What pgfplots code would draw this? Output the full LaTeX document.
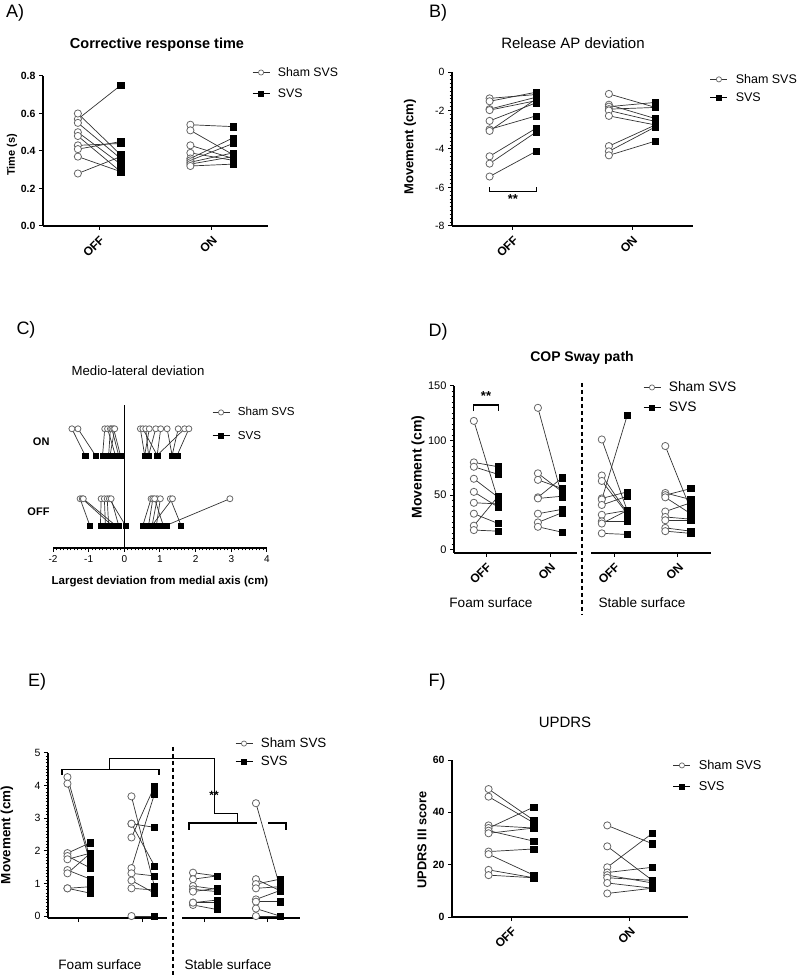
\documentclass[border=0pt]{standalone}
\usepackage{fontspec}
\setmainfont{Liberation Sans}
\usepackage{pgfplots}
\usepackage{pgfplotstable}
\pgfplotsset{compat=1.18}

\newcommand{\fs}[1]{\fontsize{#1}{#1}\selectfont}

% c = category (1 OFF, 2 ON), s = Sham SVS, v = SVS
\pgfplotstableread{
c s v
1 0.57 0.75
1 0.60 0.38
1 0.55 0.36
1 0.50 0.33
1 0.48 0.29
1 0.43 0.44
1 0.41 0.45
1 0.37 0.29
1 0.28 0.37
2 0.54 0.53
2 0.51 0.38
2 0.43 0.36
2 0.39 0.35
2 0.36 0.47
2 0.35 0.44
2 0.34 0.39
2 0.33 0.37
2 0.32 0.33
}\tblA

\pgfplotstableread{
c s v
1 -1.37 -1.17
1 -1.52 -1.05
1 -1.93 -1.31
1 -1.98 -1.49
1 -2.54 -1.60
1 -2.98 -2.28
1 -3.06 -1.40
1 -4.38 -2.92
1 -4.76 -3.12
1 -5.43 -4.12
2 -1.14 -1.84
2 -1.70 -2.42
2 -1.80 -1.58
2 -1.93 -1.84
2 -2.00 -2.57
2 -2.28 -2.75
2 -3.85 -2.75
2 -4.12 -2.85
2 -4.33 -3.59
}\tblB

\pgfplotstableread{
c s v
2 -1.47 -1.10
2 -1.30 -0.81
2 -0.55 -0.61
2 -0.47 -0.25
2 -0.39 -0.44
2 -0.35 -0.16
2 -0.30 -0.11
2 -0.27 -0.40
2 0.45 0.57
2 0.52 0.92
2 0.60 0.68
2 0.70 0.57
2 0.88 0.68
2 1.02 0.92
2 1.20 1.34
2 1.51 1.34
2 1.69 0.92
2 1.81 1.48
1 -1.24 -0.97
1 -1.18 -0.35
1 -1.15 -0.25
1 -0.65 -0.67
1 -0.56 -0.53
1 -0.48 -0.44
1 -0.42 0.03
1 -0.37 -0.16
1 0.75 0.52
1 0.80 0.68
1 0.92 0.78
1 1.01 0.90
1 1.29 1.59
1 1.35 0.78
1 2.96 1.18
1 0.85 1.09
}\tblC

\pgfplotstableread{
c s v
1 118 45
1 80 76
1 76 69
1 65 48
1 53 39
1 43 42
1 33 24
1 22 49
1 18 17
2 130 48
2 70 53
2 64 56
2 48 66
2 47 49
2 33 37
2 25 34
2 21 16
}\tblDfoam

\pgfplotstableread{
c s v
1 101 36
1 68 34
1 63 33
1 47 53
1 46 123
1 41 49
1 32 36
1 26 26
1 24 36
1 15 14
2 95 37
2 52 46
2 50 56
2 48 33
2 35 43
2 30 28
2 27 27
2 20 17
2 17 15
}\tblDstable

\pgfplotstableread{
c s v
1 4.26 1.72
1 4.06 1.60
1 1.93 2.25
1 1.84 1.47
1 1.74 1.93
1 1.41 1.13
1 1.31 1.93
1 0.85 0.90
1 0.85 0.70
2 3.67 0.90
2 2.83 1.54
2 2.83 2.72
2 2.41 3.98
2 1.47 3.75
2 1.31 1.23
2 1.09 0.70
2 0.85 0.80
2 0.00 0.00
}\tblEfoam

\pgfplotstableread{
c s v
1 1.33 1.23
1 1.13 1.23
1 0.92 0.82
1 0.82 0.75
1 0.75 0.85
1 0.41 0.49
1 0.34 0.20
1 0.41 0.41
2 3.46 0.90
2 1.13 0.78
2 0.98 1.13
2 0.85 0.90
2 0.51 0.78
2 0.44 0.44
2 0.23 0.00
2 0.00 0.00
}\tblEstable

\pgfplotstableread{
c s v
1 48.9 37
1 46 36
1 35 34
1 34 42
1 33 29
1 32 34
1 25 26
1 24 16
1 18 15
1 16 15
2 35 28
2 27 14
2 19 32
2 17 19
2 16 13
2 15 14
2 13 11
2 9 11
}\tblF

\pgfplotsset{
  base/.style={scale only axis, anchor=south west, clip=false,
    axis line style={line width=1.3pt}, tick align=outside,
    major tick length=4pt, minor tick length=2.5pt,
    tick style={black, line width=1pt},
    /pgf/number format/assume math mode=true,
    legend cell align=left,
    legend image code/.code={\draw[##1] (0pt,0pt) -- (17pt,0pt); \draw[##1] plot coordinates {(8.5pt,0pt)};}},
  cat/.style={xtick={1,2}, xticklabels={OFF,ON},
    xticklabel style={rotate=45, anchor=north east, font=\fs{12}\bfseries}},
  leg/.style n args={4}{legend style={at={(#1,#2)}, anchor=west, draw=none, fill=none,
    font=\fs{#3}, row sep=#4, column sep=8pt, inner sep=0pt, nodes={inner sep=0pt}}},
  pl/.style={no marks, draw=black!80, line width=0.7pt, forget plot},
  shm/.style={only marks, mark=*, mark size=3.6pt, mark options={draw=black!60, fill=white, line width=0.8pt}, forget plot},
  svm/.style={only marks, mark=square*, mark size=3.1pt, mark options={draw=black, fill=black}, forget plot},
}

\newcommand{\legs}{%
  \addlegendimage{draw=black!80, line width=0.7pt, mark=*, mark size=2.6pt, mark options={draw=black!60, fill=white, line width=0.7pt}}
  \addlegendentry{Sham SVS}
  \addlegendimage{draw=black, line width=0.7pt, mark=square*, mark size=2.4pt, mark options={fill=black}}
  \addlegendentry{SVS}}

\newcommand{\pairs}[2]{%
  \addplot[pl, quiver={u=2*#2, v=\thisrow{v}-\thisrow{s}}] table[x expr=\thisrow{c}-#2, y=s] {#1};
  \addplot[shm] table[x expr=\thisrow{c}-#2, y=s] {#1};
  \addplot[svm] table[x expr=\thisrow{c}+#2, y=v] {#1};}

\begin{document}
\begin{tikzpicture}
\useasboundingbox (0pt,0pt) rectangle (800pt,978pt);
\clip (0pt,0pt) rectangle (800pt,978pt);

% ---------- A
\begin{axis}[base, cat, at={(43pt,752pt)}, width=225pt, height=150pt,
  xmin=0.5, xmax=2.5, ymin=0, ymax=0.8,
  axis x line*=bottom, axis y line*=left,
  ytick={0,0.2,0.4,0.6,0.8},
  yticklabel style={font=\fs{10.5}\bfseries, /pgf/number format/fixed, /pgf/number format/fixed zerofill, /pgf/number format/precision=1},
  leg={0.929}{0.953}{12.3}{11pt}]
\legs
\pairs{\tblA}{0.19}
\end{axis}

% ---------- B
\begin{axis}[base, cat, at={(452pt,752pt)}, width=241pt, height=154pt,
  xmin=0.49, xmax=2.51, ymin=-8, ymax=0,
  axis x line*=bottom, axis y line*=left,
  ytick={-8,-6,-4,-2,0}, minor y tick num=9,
  yticklabel style={font=\fs{10.5}},
  leg={1.07}{0.893}{12.5}{8pt}]
\legs
\pairs{\tblB}{0.195}
\draw[line width=1.1pt] (axis cs:0.805,-6.0) -- (axis cs:0.805,-6.2) -- (axis cs:1.195,-6.2) -- (axis cs:1.195,-6.0);
\node[font=\fs{13}\bfseries] at (axis cs:1.0,-6.6) {**};
\end{axis}

% ---------- C
\begin{axis}[base, at={(53pt,430pt)}, width=214pt, height=143pt,
  xmin=-2, xmax=4, ymin=0.486, ymax=2.53,
  axis x line*=bottom, axis y line=none,
  xtick={-2,-1,0,1,2,3,4}, minor x tick num=9,
  xticklabel style={font=\fs{10}},
  shm/.append style={mark size=3pt},
  svm/.append style={mark size=2.6pt},
  leg={0.743}{0.867}{11.6}{13.6pt}]
\legs
\addplot[pl, quiver={u=\thisrow{v}-\thisrow{s}, v=-0.38}] table[x=s, y expr=\thisrow{c}+0.19] {\tblC};
\addplot[shm] table[x=s, y expr=\thisrow{c}+0.19] {\tblC};
\addplot[svm] table[x=v, y expr=\thisrow{c}-0.19] {\tblC};
\draw[line width=1.3pt] (axis cs:0,0.486) -- (axis cs:0,2.53);
\node[anchor=east, font=\fs{11}\bfseries] at (axis cs:-2,2) {ON};
\node[anchor=east, font=\fs{11}\bfseries] at (axis cs:-2,1) {OFF};
\end{axis}

% ---------- D
\begin{axis}[base, cat, at={(454pt,425pt)}, width=123pt, height=167pt,
  xmin=0.5, xmax=2.42, ymin=-3, ymax=150,
  axis x line*=bottom, axis y line*=left,
  ytick={0,50,100,150}, minor y tick num=9,
  yticklabel style={font=\fs{11}}]
\pairs{\tblDfoam}{0.19}
\draw[line width=1.2pt] (axis cs:0.81,127) -- (axis cs:0.81,132.6) -- (axis cs:1.19,132.6) -- (axis cs:1.19,127);
\node[font=\fs{13}\bfseries] at (axis cs:1.0,141) {**};
\end{axis}
\begin{axis}[base, cat, at={(591pt,425pt)}, width=120pt, height=167pt,
  xmin=0.63, xmax=2.52, ymin=-3, ymax=150,
  axis x line*=bottom, axis y line=none,
  leg={0.433}{0.931}{13.8}{9pt}]
\legs
\pairs{\tblDstable}{0.2}
\end{axis}

% ---------- E
\begin{axis}[base, at={(48pt,60pt)}, width=119pt, height=165pt,
  xmin=0.516, xmax=2.375, ymin=-0.06, ymax=5,
  axis x line*=bottom, axis y line*=left,
  xtick={1,2}, xticklabels={,},
  ytick={0,1,2,3,4,5}, minor y tick num=9,
  yticklabel style={font=\fs{10.5}},
  leg={1.571}{1.003}{13.4}{7pt}]
\legs
\pairs{\tblEfoam}{0.18}
\end{axis}
\begin{axis}[base, at={(182pt,60pt)}, width=118pt, height=165pt,
  xmin=0.635, xmax=2.51, ymin=-0.06, ymax=5,
  axis x line*=bottom, axis y line=none,
  xtick={1,2}, xticklabels={,}]
\pairs{\tblEstable}{0.19}
\end{axis}

% ---------- F
\begin{axis}[base, cat, at={(452pt,61pt)}, width=236pt, height=157pt,
  xmin=0.502, xmax=2.49, ymin=0, ymax=60,
  axis x line*=bottom, axis y line*=left,
  ytick={0,20,40,60},
  yticklabel style={font=\fs{10.5}\bfseries},
  leg={0.936}{0.898}{12.8}{10.8pt}]
\legs
\pairs{\tblF}{0.19}
\end{axis}

% ---------- panel letters, titles, labels
\node[font=\fs{18}] at (15pt,965pt) {A)};
\node[font=\fs{18}] at (438pt,965pt) {B)};
\node[font=\fs{18}] at (26pt,648pt) {C)};
\node[font=\fs{18}] at (438pt,646pt) {D)};
\node[font=\fs{18}] at (37pt,296pt) {E)};
\node[font=\fs{18}] at (437pt,296pt) {F)};

\node[font=\fs{14.5}\bfseries] at (157pt,933pt) {Corrective response time};
\node[font=\fs{15}] at (573pt,935pt) {Release AP deviation};
\node[font=\fs{13.2}] at (138pt,607pt) {Medio-lateral deviation};
\node[font=\fs{14}\bfseries] at (582pt,620pt) {COP Sway path};
\node[font=\fs{15}] at (565pt,256pt) {UPDRS};

\node[rotate=90, font=\fs{11}\bfseries] at (12pt,823pt) {Time (s)};
\node[rotate=90, font=\fs{13}\bfseries] at (410pt,831pt) {Movement (cm)};
\node[rotate=90, font=\fs{14}\bfseries] at (418pt,511pt) {Movement (cm)};
\node[rotate=90, font=\fs{13.4}\bfseries] at (7pt,143pt) {Movement (cm)};
\node[rotate=90, font=\fs{12.8}\bfseries] at (422pt,138pt) {UPDRS III score};
\node[font=\fs{11.5}\bfseries] at (160pt,396pt) {Largest deviation from medial axis (cm)};

\node[font=\fs{13.6}] at (491pt,375pt) {Foam surface};
\node[font=\fs{13.6}] at (642pt,375pt) {Stable surface};
\draw[line width=1.2pt, dash pattern=on 4pt off 3pt] (582pt,595pt) -- (582pt,363pt);

\node[font=\fs{13.6}] at (100pt,13pt) {Foam surface};
\node[font=\fs{13.6}] at (228pt,13pt) {Stable surface};
\draw[line width=1.2pt, dash pattern=on 4pt off 3pt] (173pt,231pt) -- (173pt,0pt);

% E significance brackets
\draw[line width=1.3pt] (62pt,203.2pt) -- (62pt,208.4pt) -- (159pt,208.4pt) -- (159pt,203.2pt);
\draw[line width=0.7pt] (109pt,208.4pt) -- (109pt,220.1pt) -- (214pt,220.1pt) -- (214pt,165pt) -- (237pt,165pt) -- (237pt,154.9pt);
\draw[line width=1.3pt] (189pt,148.1pt) -- (189pt,154.9pt) -- (257pt,154.9pt);
\draw[line width=1.3pt] (268pt,154.9pt) -- (286pt,154.9pt) -- (286pt,148.1pt);
\node[font=\fs{12}\bfseries] at (214pt,183pt) {**};
\end{tikzpicture}
\end{document}
